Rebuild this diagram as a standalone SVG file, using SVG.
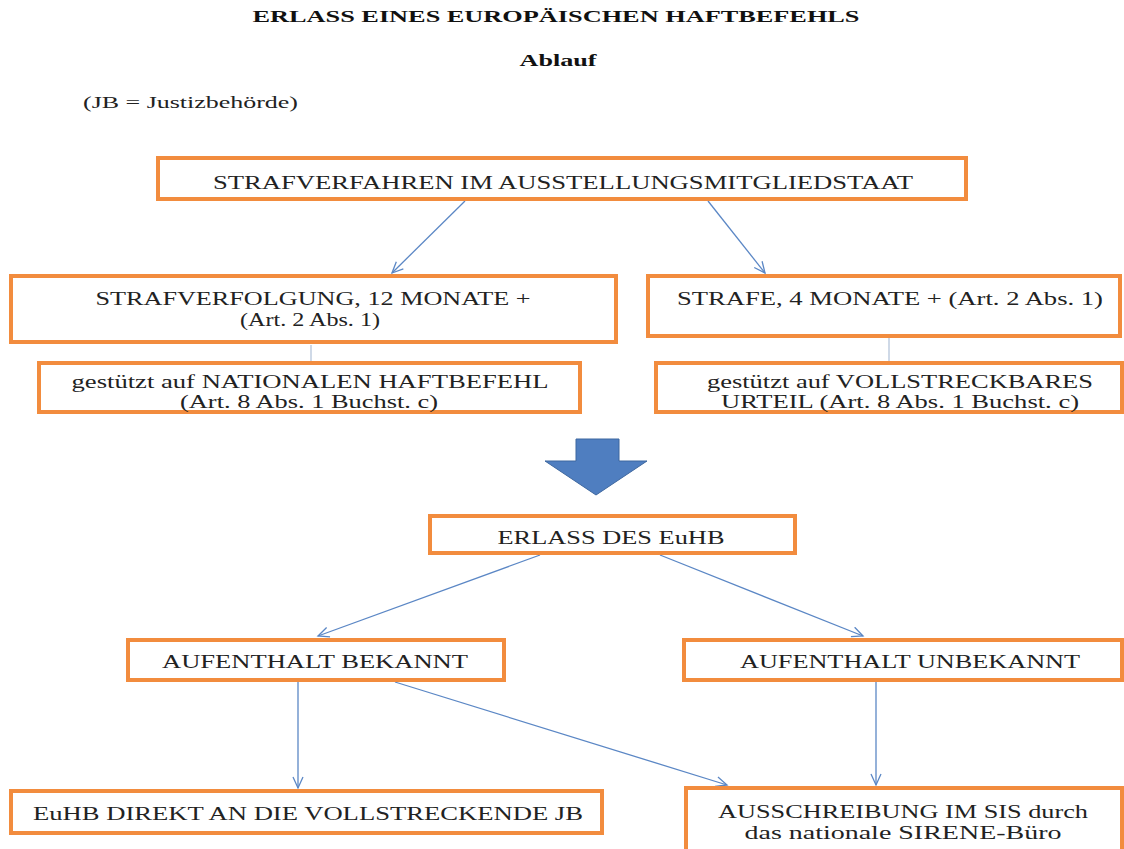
<svg xmlns="http://www.w3.org/2000/svg" width="1124" height="849" viewBox="0 0 1124 849">
<style>
.box{fill:#fff;stroke:#F28C3E;stroke-width:4}
text{font-family:'Liberation Serif','Times New Roman','DejaVu Serif',serif}
.t{font-size:18px;fill:#222;text-anchor:middle}
.h{font-size:16px;font-weight:bold;fill:#111;text-anchor:middle}
.n{font-size:16px;fill:#222}
.c{stroke:#5B87C5;stroke-width:1.3;fill:none}
.s{stroke:#9FB3CF;stroke-width:1;fill:none}
</style>
<defs>
<marker id="a" markerWidth="14" markerHeight="12" refX="12" refY="6" orient="auto" markerUnits="userSpaceOnUse">
<path d="M1,1 L12,6 L1,11" fill="none" stroke="#5B87C5" stroke-width="1.3"/>
</marker>
</defs>
<rect width="1124" height="849" fill="#fff"/>
<text class="h" x="556" y="22" textLength="607" lengthAdjust="spacingAndGlyphs">ERLASS EINES EUROPÄISCHEN HAFTBEFEHLS</text>
<text class="h" x="558" y="66" textLength="77" lengthAdjust="spacingAndGlyphs">Ablauf</text>
<text class="n" x="83" y="108" textLength="215" lengthAdjust="spacingAndGlyphs">(JB = Justizbehörde)</text>

<g id="connectors">
<line class="c" x1="465" y1="201" x2="392" y2="273" marker-end="url(#a)"/>
<line class="c" x1="708" y1="201" x2="765" y2="273" marker-end="url(#a)"/>
<line class="s" x1="311" y1="345" x2="311" y2="361"/>
<line class="s" x1="889" y1="338" x2="889" y2="361"/>
<line class="c" x1="540" y1="555" x2="318" y2="636" marker-end="url(#a)"/>
<line class="c" x1="660" y1="555" x2="863" y2="636" marker-end="url(#a)"/>
<line class="c" x1="298" y1="682" x2="298" y2="788" marker-end="url(#a)"/>
<line class="c" x1="395" y1="682" x2="727" y2="785" marker-end="url(#a)"/>
<line class="c" x1="876" y1="682" x2="876" y2="785" marker-end="url(#a)"/>
</g>

<g id="bigarrow">
<path d="M576,439 L619,439 L619,461 L647,461 L596,495 L545,461 L576,461 Z" fill="#4F7EC0" stroke="#3D679F" stroke-width="1"/>
</g>

<g id="n1"><rect class="box" x="158" y="158" width="808" height="41"/>
<text class="t" x="563" y="189" textLength="700" lengthAdjust="spacingAndGlyphs">STRAFVERFAHREN IM AUSSTELLUNGSMITGLIEDSTAAT</text></g>

<g id="n2"><rect class="box" x="11" y="276" width="605" height="66"/>
<text class="t" x="313" y="305" textLength="435" lengthAdjust="spacingAndGlyphs">STRAFVERFOLGUNG, 12 MONATE +</text>
<text class="t" x="310" y="326" textLength="140" lengthAdjust="spacingAndGlyphs">(Art. 2 Abs. 1)</text></g>

<g id="n3"><rect class="box" x="648" y="276" width="472" height="60"/>
<text class="t" x="890" y="305" textLength="426" lengthAdjust="spacingAndGlyphs">STRAFE, 4 MONATE + (Art. 2 Abs. 1)</text></g>

<g id="n4"><rect class="box" x="39" y="363" width="541" height="49"/>
<text class="t" x="310" y="388" textLength="477" lengthAdjust="spacingAndGlyphs">gestützt auf NATIONALEN HAFTBEFEHL</text>
<text class="t" x="309" y="408" textLength="258" lengthAdjust="spacingAndGlyphs">(Art. 8 Abs. 1 Buchst. c)</text></g>

<g id="n5"><rect class="box" x="656" y="363" width="466" height="49"/>
<text class="t" x="900" y="388" textLength="386" lengthAdjust="spacingAndGlyphs">gestützt auf VOLLSTRECKBARES</text>
<text class="t" x="900" y="408" textLength="358" lengthAdjust="spacingAndGlyphs">URTEIL (Art. 8 Abs. 1 Buchst. c)</text></g>

<g id="n6"><rect class="box" x="430" y="516" width="365" height="37"/>
<text class="t" x="611" y="544" textLength="227" lengthAdjust="spacingAndGlyphs">ERLASS DES EuHB</text></g>

<g id="n7"><rect class="box" x="128" y="640" width="376" height="40"/>
<text class="t" x="315" y="668" textLength="306" lengthAdjust="spacingAndGlyphs">AUFENTHALT BEKANNT</text></g>

<g id="n8"><rect class="box" x="684" y="640" width="438" height="40"/>
<text class="t" x="910" y="668" textLength="340" lengthAdjust="spacingAndGlyphs">AUFENTHALT UNBEKANNT</text></g>

<g id="n9"><rect class="box" x="11" y="791" width="591" height="42"/>
<text class="t" x="308" y="820" textLength="550" lengthAdjust="spacingAndGlyphs">EuHB DIREKT AN DIE VOLLSTRECKENDE JB</text></g>

<g id="n10"><rect class="box" x="686" y="788" width="436" height="70"/>
<text class="t" x="903" y="818" textLength="370" lengthAdjust="spacingAndGlyphs">AUSSCHREIBUNG IM SIS durch</text>
<text class="t" x="903" y="839" textLength="317" lengthAdjust="spacingAndGlyphs">das nationale SIRENE-Büro</text></g>
</svg>
